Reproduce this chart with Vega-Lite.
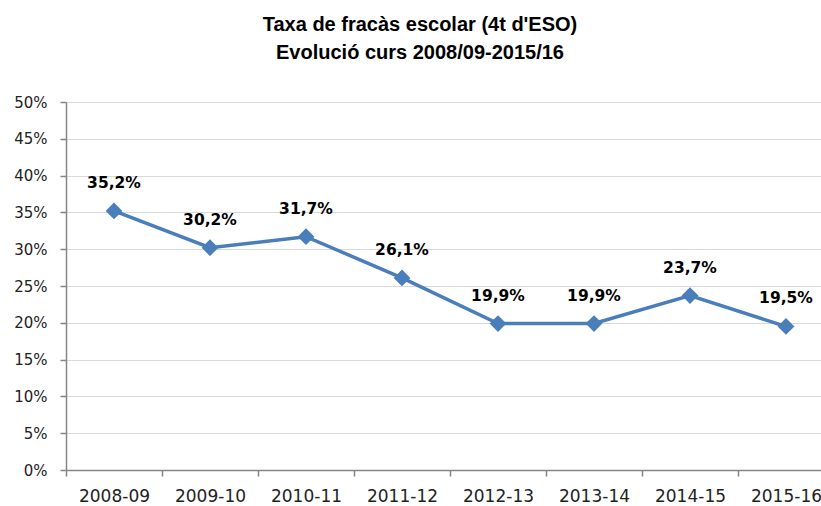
{
  "$schema": "https://vega.github.io/schema/vega-lite/v6.json",
  "autosize": "none",
  "width": 768,
  "height": 368,
  "padding": {"left": 66, "top": 102, "right": 0, "bottom": 36},
  "background": "white",
  "title": {
    "text": ["Taxa de fracàs escolar (4t d'ESO)", "Evolució curs 2008/09-2015/16"],
    "font": "Liberation Sans",
    "fontSize": 20,
    "fontWeight": "bold",
    "color": "#000000",
    "lineHeight": 28,
    "anchor": "middle",
    "frame": "group",
    "dx": -30,
    "offset": 32
  },
  "data": {
    "values": [
      {"curs": "2008-09", "taxa": 35.2, "etiqueta": "35,2%"},
      {"curs": "2009-10", "taxa": 30.2, "etiqueta": "30,2%"},
      {"curs": "2010-11", "taxa": 31.7, "etiqueta": "31,7%"},
      {"curs": "2011-12", "taxa": 26.1, "etiqueta": "26,1%"},
      {"curs": "2012-13", "taxa": 19.9, "etiqueta": "19,9%"},
      {"curs": "2013-14", "taxa": 19.9, "etiqueta": "19,9%"},
      {"curs": "2014-15", "taxa": 23.7, "etiqueta": "23,7%"},
      {"curs": "2015-16", "taxa": 19.5, "etiqueta": "19,5%"}
    ]
  },
  "encoding": {
    "x": {
      "field": "curs",
      "type": "ordinal",
      "bandPosition": 0.5,
      "scale": {"type": "band", "paddingInner": 0, "paddingOuter": 0},
      "axis": {
        "title": null,
        "labelAngle": 0,
        "labelFont": "DejaVu Sans",
        "labelFontSize": 17,
        "labelColor": "#222222",
        "labelPadding": 12,
        "tickBand": "extent",
        "tickSize": 6,
        "tickColor": "#868686",
        "tickWidth": 1.5,
        "domainColor": "#868686",
        "domainWidth": 1.5,
        "grid": false
      }
    },
    "y": {
      "field": "taxa",
      "type": "quantitative",
      "scale": {"domain": [0, 50], "nice": false, "zero": true},
      "axis": {
        "title": null,
        "values": [0, 5, 10, 15, 20, 25, 30, 35, 40, 45, 50],
        "labelExpr": "datum.value + '%'",
        "labelFont": "DejaVu Sans",
        "labelFontSize": 15,
        "labelColor": "#222222",
        "labelPadding": 13,
        "tickSize": 6,
        "tickColor": "#868686",
        "tickWidth": 1.5,
        "domainColor": "#868686",
        "domainWidth": 1.5,
        "grid": true,
        "gridColor": "#d9d9d9",
        "gridWidth": 1
      }
    }
  },
  "layer": [
    {
      "mark": {"type": "line", "color": "#4A7EBB", "strokeWidth": 3.5}
    },
    {
      "mark": {"type": "point", "shape": "diamond", "filled": true, "size": 280, "color": "#4A7EBB", "opacity": 1}
    },
    {
      "mark": {"type": "text", "font": "DejaVu Sans", "fontSize": 15.5, "fontWeight": "bold", "color": "#000000", "baseline": "middle", "dy": -28},
      "encoding": {"text": {"field": "etiqueta"}}
    }
  ],
  "config": {"view": {"stroke": null}}
}
